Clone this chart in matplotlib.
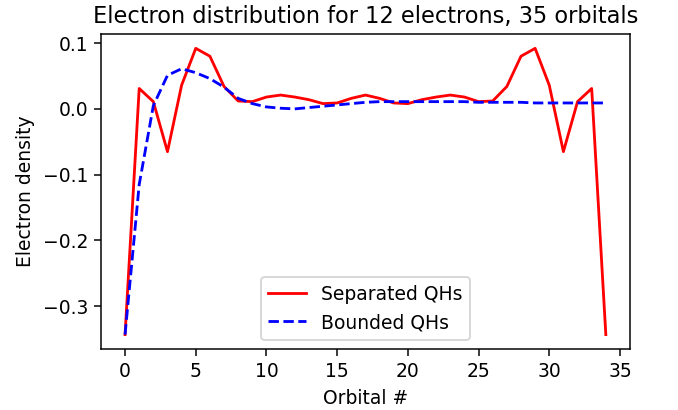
#!/usr/bin/env python3
"""Electron density per orbital: separated vs bounded quasiholes."""

import numpy as np
import matplotlib
matplotlib.use('Agg')
import matplotlib.pyplot as plt

# Data
orbitals = np.arange(35)
separated = [
    -0.343, 0.031, 0.011, -0.065, 0.036, 0.092, 0.080, 0.034, 0.012, 0.011,
    0.018, 0.021, 0.018, 0.014, 0.008, 0.009, 0.016, 0.021, 0.016, 0.009,
    0.008, 0.014, 0.018, 0.021, 0.018, 0.011, 0.012, 0.034, 0.080, 0.092,
    0.036, -0.065, 0.011, 0.031, -0.343,
]
bounded = [
    -0.343, -0.115, 0.005, 0.051, 0.061, 0.055, 0.046, 0.033, 0.016, 0.008,
    0.003, 0.001, 0.000, 0.002, 0.004, 0.006, 0.008, 0.010, 0.011, 0.011,
    0.011, 0.011, 0.011, 0.011, 0.011, 0.010, 0.010, 0.010, 0.010, 0.009,
    0.009, 0.009, 0.009, 0.009, 0.009,
]

DPI = 135
fig = plt.figure(figsize=(678 / DPI, 410 / DPI), dpi=DPI)
ax = fig.add_axes([0.149, 0.149, 0.780, 0.768])

ax.plot(orbitals, separated, 'r-', label='Separated QHs')
ax.plot(orbitals, bounded, 'b--', label='Bounded QHs')
ax.set_xlabel('Orbital #')
ax.set_ylabel('Electron density')
ax.set_title('Electron distribution for 12 electrons, 35 orbitals')
ax.legend(loc='lower center')

plt.savefig('out.png', dpi=DPI)
